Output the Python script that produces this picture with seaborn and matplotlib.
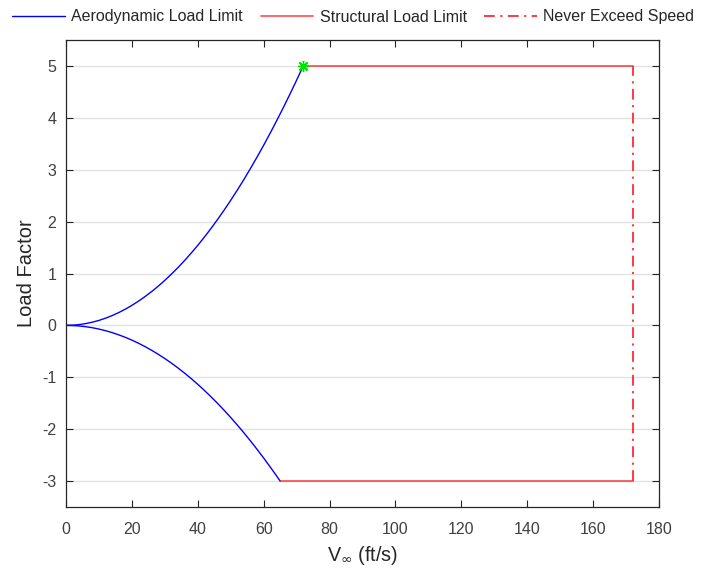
import numpy as np
import pandas as pd
import seaborn as sns
import matplotlib
matplotlib.use("Agg")
import matplotlib.pyplot as plt

# Data
v_upper = [0, 2, 4, 6, 8, 10, 12, 14, 16, 18, 20, 22, 24, 26, 28, 30, 32, 34, 36,
           38, 40, 42, 44, 46, 48, 50, 52, 54, 56, 58, 60, 62, 64, 66, 68, 70, 72]
n_upper = [0, 0.004, 0.015, 0.035, 0.062, 0.096, 0.139, 0.189, 0.247, 0.312, 0.386,
           0.467, 0.556, 0.652, 0.756, 0.868, 0.988, 1.115, 1.25, 1.393, 1.543, 1.701,
           1.867, 2.041, 2.222, 2.411, 2.608, 2.812, 3.025, 3.245, 3.472, 3.708, 3.951,
           4.201, 4.46, 4.726, 5.0]
v_lower = [0, 2, 4, 6, 8, 10, 12, 14, 16, 18, 20, 22, 24, 26, 28, 30, 32, 34, 36,
           38, 40, 42, 44, 46, 48, 50, 52, 54, 56, 58, 60, 62, 64, 65]
n_lower = [0, -0.003, -0.011, -0.026, -0.045, -0.071, -0.102, -0.139, -0.182, -0.23,
           -0.284, -0.344, -0.409, -0.48, -0.557, -0.639, -0.727, -0.821, -0.92, -1.025,
           -1.136, -1.253, -1.375, -1.502, -1.636, -1.775, -1.92, -2.07, -2.227, -2.389,
           -2.556, -2.73, -2.908, -3.0]
v_struct_pos = [72, 172]
n_struct_pos = [5, 5]
v_struct_neg = [65, 172]
n_struct_neg = [-3, -3]
v_ne = [172, 172]
n_ne = [-3, 5]
corner_v = [72]
corner_n = [5]

sns.set_theme(style="white")
plt.rcParams['font.family'] = ['Liberation Sans', 'DejaVu Sans']
plt.rcParams['axes.unicode_minus'] = False

fig = plt.figure(figsize=(7.05, 5.69), dpi=100)
ax = fig.add_axes([66/705, 1 - 507/569, (659-66)/705, (507-40)/569])

up = pd.DataFrame({"V": v_upper, "n": n_upper})
lo = pd.DataFrame({"V": v_lower, "n": n_lower})
sp = pd.DataFrame({"V": v_struct_pos, "n": n_struct_pos})
sn = pd.DataFrame({"V": v_struct_neg, "n": n_struct_neg})
ne = pd.DataFrame({"V": v_ne, "n": n_ne})

red = "#ff0000"
sns.lineplot(data=up, x="V", y="n", ax=ax, color="#0000ff", lw=1.0, sort=False,
             estimator=None, label="Aerodynamic Load Limit")
sns.lineplot(data=lo, x="V", y="n", ax=ax, color="#0000ff", lw=1.0, sort=False,
             estimator=None, legend=False)
sns.lineplot(data=sp, x="V", y="n", ax=ax, color=red, lw=1.3, alpha=0.65, sort=False,
             estimator=None, label="Structural Load Limit")
sns.lineplot(data=sn, x="V", y="n", ax=ax, color=red, lw=1.3, alpha=0.65, sort=False,
             estimator=None, legend=False)
sns.lineplot(data=ne, x="V", y="n", ax=ax, color="#ff2a3a", lw=1.3,
             linestyle=(0, (6, 3, 1.2, 3)), sort=False, estimator=None,
             label="Never Exceed Speed")
ax.plot(corner_v, corner_n, linestyle="none", marker=(8, 2, 0), markersize=8,
        markeredgecolor="#00e000", markeredgewidth=1.0)

ax.set_xlim(0, 180)
ax.set_ylim(-3.5, 5.5)
ax.set_xticks(np.arange(0, 181, 20))
ax.set_yticks(np.arange(-3, 6, 1))
ax.yaxis.grid(True, color="#e3e3e3", lw=1.0)
ax.xaxis.grid(False)
ax.set_axisbelow(True)

for s in ax.spines.values():
    s.set_color("#262626")
    s.set_linewidth(0.9)
    s.set_visible(True)

ax.tick_params(axis="both", which="both", direction="in", length=5, width=0.8,
               colors="#262626", labelcolor="#404040", labelsize=11.5,
               top=True, right=True, bottom=True, left=True)
ax.tick_params(axis="x", pad=11)
ax.tick_params(axis="y", pad=7)

ax.set_xlabel(r"V$_{\infty}$ (ft/s)", fontsize=14.2, color="#262626", labelpad=4.5)
ax.set_ylabel("Load Factor", fontsize=14.5, color="#262626", labelpad=4.5)

handles, labels = ax.get_legend_handles_labels()
ax.get_legend().remove()
fig.legend(handles, labels, loc="center left", bbox_to_anchor=(-0.003, 1 - 17/569), ncol=3,
           frameon=False, fontsize=11.5, handlelength=3.3, columnspacing=1.1,
           handletextpad=0.4, labelcolor="#262626")

fig.savefig("out.png", dpi=100)
